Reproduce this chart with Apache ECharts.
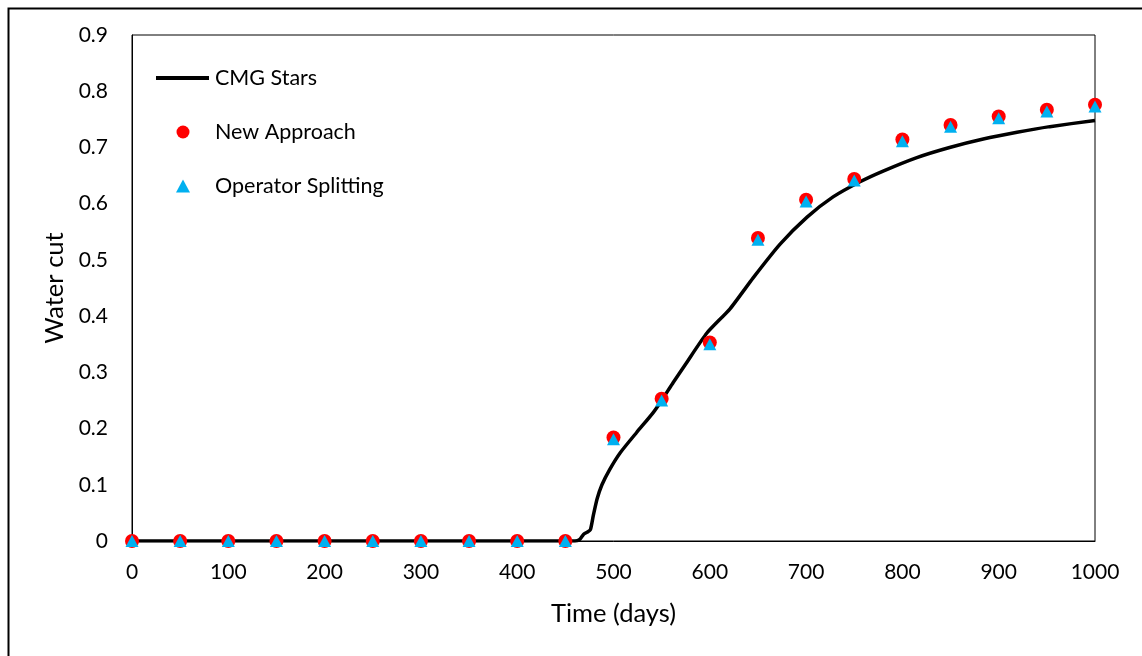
<!DOCTYPE html>
<html>
<head>
<meta charset="utf-8">
<script src="https://cdn.jsdelivr.net/npm/echarts@6/dist/echarts.min.js"></script>
<style>
html,body{margin:0;padding:0;background:#fff;}
#chart{width:1142px;height:656px;}
</style>
</head>
<body>
<div id="chart"></div>
<script>
// ---- data ----
const pointTimes = [0,50,100,150,200,250,300,350,400,450,500,550,600,650,700,750,800,850,900,950,1000];
const newApproach = [0,0,0,0,0,0,0,0,0,0,0.184,0.253,0.353,0.539,0.607,0.644,0.714,0.740,0.755,0.767,0.776];
const operatorSplitting = [0,0,0,0,0,0,0,0,0,0,0.181,0.250,0.350,0.536,0.604,0.641,0.711,0.737,0.752,0.764,0.773];
const cmgTime = [0,460,465,469,473,476,479,483,488,496,507,524,541,550,562,575,597,621,645,673,701,728,756,780,815,849,884,919,953,1000];
const cmgWaterCut = [0,0,0.003,0.012,0.016,0.02,0.045,0.075,0.1,0.127,0.157,0.193,0.228,0.25,0.282,0.315,0.37,0.413,0.468,0.528,0.576,0.612,0.639,0.658,0.682,0.700,0.715,0.727,0.737,0.748];
const seriesNames = ['CMG Stars','New Approach','Operator Splitting'];

const FONT = 'Lato';
const chart = echarts.init(document.getElementById('chart'));
chart.setOption({
  animation: false,
  backgroundColor: '#fff',
  textStyle: {fontFamily: FONT, color: '#000'},
  graphic: [{
    type: 'rect', left: 6, top: 6, silent: true,
    shape: {x: 0, y: 0, width: 1200, height: 700},
    style: {fill: 'none', stroke: '#000', lineWidth: 2}
  }],
  grid: {left: 132, top: 35, right: 47, bottom: 115, containLabel: false, outerBoundsMode: 'none',
         show: true, borderColor: '#000', borderWidth: 1, backgroundColor: 'transparent'},
  legend: [
    {
      data: [{name: seriesNames[0], icon: 'rect'}], orient: 'vertical', left: 151, top: 62,
      itemWidth: 53, itemHeight: 4,
      textStyle: {fontFamily: FONT, fontSize: 21.5, color: '#000', padding: [0, 0, 0, 1]}
    },
    {
      data: [{name: seriesNames[1], icon: 'circle'}, {name: seriesNames[2], icon: 'triangle'}],
      orient: 'vertical', left: 171, top: 116,
      itemWidth: 14, itemHeight: 13, itemGap: 32,
      textStyle: {fontFamily: FONT, fontSize: 21.5, color: '#000', padding: [0, 0, 0, 20]}
    }
  ],
  xAxis: {
    type: 'value', min: 0, max: 1000, interval: 100,
    name: 'Time (days)', nameLocation: 'middle', nameGap: 60,
    nameTextStyle: {fontFamily: FONT, fontSize: 25.5, color: '#000'},
    axisLine: {show: true, lineStyle: {color: '#000', width: 1}},
    axisTick: {show: false},
    splitLine: {show: false},
    axisLabel: {fontFamily: FONT, fontSize: 21, color: '#000', margin: 21,
      formatter: v => String(v)}
  },
  yAxis: {
    type: 'value', min: 0, max: 0.9, interval: 0.1,
    name: 'Water cut', nameLocation: 'middle', nameGap: 63, nameRotate: 90,
    nameTextStyle: {fontFamily: FONT, fontSize: 25.5, color: '#000'},
    axisLine: {show: true, lineStyle: {color: '#000', width: 1}},
    axisTick: {show: false},
    splitLine: {show: false},
    axisLabel: {fontFamily: FONT, fontSize: 21, color: '#000', margin: 24,
      formatter: v => v === 0 ? '0' : v.toFixed(1)}
  },
  series: [
    {
      name: seriesNames[0], type: 'line', symbol: 'none', smooth: 0.2, z: 2,
      data: cmgTime.map((t, i) => [t, cmgWaterCut[i]]),
      lineStyle: {color: '#000', width: 3.5}, itemStyle: {color: '#000'}
    },
    {
      name: seriesNames[1], type: 'scatter', symbol: 'circle', symbolSize: 14, z: 3,
      data: pointTimes.map((t, i) => [t, newApproach[i]]),
      itemStyle: {color: '#FF0000', opacity: 1}
    },
    {
      name: seriesNames[2], type: 'scatter', symbol: 'triangle', symbolSize: [13, 12], z: 4,
      data: pointTimes.map((t, i) => [t, operatorSplitting[i]]),
      itemStyle: {color: '#00B0F0', opacity: 1}
    }
  ]
});
</script>
</body>
</html>
